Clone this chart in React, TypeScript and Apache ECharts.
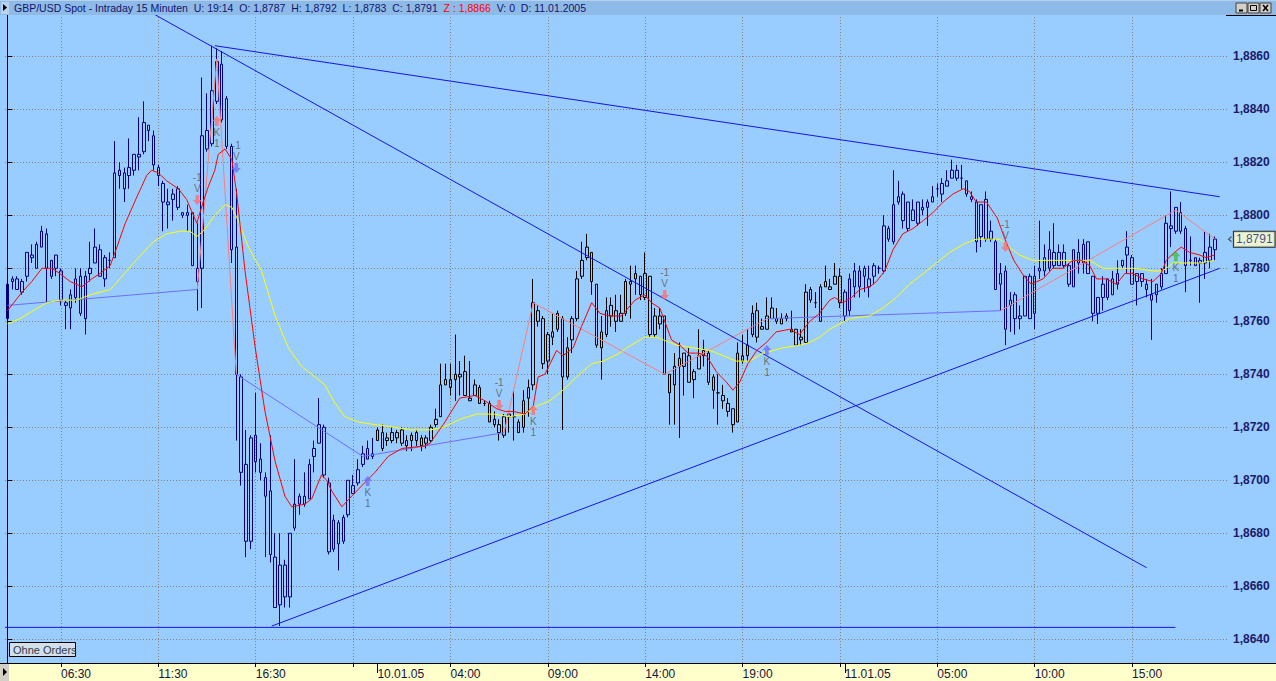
import React, { useEffect, useRef } from 'react';
import * as echarts from 'echarts';

// ---------- candle data (GBP/USD, 15 min bars) ----------
const opens = [
  1.8761,1.8776,1.8776,1.8771,1.8777,1.8785,1.8780,1.8788,1.8793,1.8777,
  1.8785,1.8779,1.8767,1.8765,1.8769,1.8777,1.8761,1.8778,1.8782,1.8787,
  1.8776,1.8783,1.8784,1.8817,1.8810,1.8815,1.8817,1.8822,1.8824,1.8834,
  1.8830,1.8818,1.8812,1.8804,1.8806,1.8810,1.8801,1.8801,1.8801,1.8780,
  1.8780,1.8832,1.8827,1.8843,1.8857,1.8844,1.8826,1.8788,1.8739,1.8706,
  1.8677,1.8707,1.8708,1.8701,1.8696,1.8671,1.8653,1.8656,1.8656,1.8682,
  1.8694,1.8691,1.8693,1.8709,1.8714,1.8720,1.8699,1.8674,1.8684,1.8677,
  1.8687,1.8695,1.8699,1.8706,1.8712,1.8709,1.8715,1.8718,1.8715,1.8718,
  1.8716,1.8719,1.8715,1.8717,1.8718,1.8716,1.8716,1.8715,1.8721,1.8724,
  1.8738,1.8735,1.8738,1.8739,1.8741,1.8731,1.8732,1.8735,1.8729,1.8729,
  1.8723,1.8721,1.8717,1.8724,1.8724,1.8722,1.8720,1.8731,1.8736,1.8764,
  1.8761,1.8755,1.8754,1.8757,1.8761,1.8739,1.8753,1.8761,1.8777,1.8784,
  1.8786,1.8774,1.8750,1.8755,1.8766,1.8764,1.8760,1.8763,1.8775,1.8776,
  1.8777,1.8769,1.8777,1.8762,1.8759,1.8762,1.8740,1.8736,1.8743,1.8743,
  1.8747,1.8738,1.8742,1.8747,1.8748,1.8739,1.8733,1.8732,1.8729,1.8727,
  1.8722,1.8747,1.8751,1.8755,1.8764,1.8758,1.8757,1.8761,1.8761,1.8761,
  1.8762,1.8757,1.8757,1.8754,1.8752,1.8772,1.8767,1.8760,1.8775,1.8772,
  1.8774,1.8777,1.8771,1.8764,1.8773,1.8773,1.8780,1.8776,1.8777,1.8780,
  1.8779,1.8795,1.8790,1.8805,1.8808,1.8795,1.8802,1.8797,1.8803,1.8803,
  1.8805,1.8810,1.8808,1.8813,1.8814,1.8814,1.8814,1.8813,1.8807,1.8805,
  1.8792,1.8806,1.8794,1.8790,1.8774,1.8779,1.8766,1.8770,1.8762,1.8762,
  1.8777,1.8763,1.8779,1.8784,1.8780,1.8786,1.8781,1.8786,1.8781,1.8773,
  1.8786,1.8782,1.8790,1.8777,1.8763,1.8769,1.8769,1.8776,1.8774,1.8783,
  1.8785,1.8784,1.8775,1.8778,1.8774,1.8770,1.8770,1.8773,1.8778,1.8796,
  1.8794,1.8801,1.8795,1.8783,1.8784,1.8782,1.8786,1.8783,1.8787
];
const highs = [
  1.8774,1.8777,1.8777,1.8776,1.8786,1.8789,1.8790,1.8796,1.8795,1.8783,
  1.8785,1.8780,1.8768,1.8772,1.8780,1.8780,1.8779,1.8790,1.8795,1.8789,
  1.8785,1.8786,1.8828,1.8820,1.8818,1.8829,1.8823,1.8837,1.8843,1.8834,
  1.8832,1.8819,1.8813,1.8810,1.8810,1.8811,1.8801,1.8804,1.8801,1.8797,
  1.8852,1.8846,1.8864,1.8863,1.8862,1.8845,1.8827,1.8810,1.8740,1.8719,
  1.8717,1.8733,1.8714,1.8703,1.8717,1.8680,1.8680,1.8670,1.8680,1.8708,
  1.8695,1.8703,1.8708,1.8715,1.8731,1.8721,1.8701,1.8687,1.8685,1.8687,
  1.8700,1.8702,1.8708,1.8713,1.8715,1.8716,1.8720,1.8721,1.8718,1.8720,
  1.8719,1.8720,1.8717,1.8718,1.8719,1.8717,1.8717,1.8721,1.8727,1.8744,
  1.8744,1.8744,1.8755,1.8745,1.8747,1.8745,1.8738,1.8736,1.8730,1.8730,
  1.8726,1.8723,1.8725,1.8726,1.8734,1.8723,1.8734,1.8738,1.8776,1.8766,
  1.8762,1.8756,1.8763,1.8764,1.8762,1.8754,1.8762,1.8779,1.8790,1.8793,
  1.8786,1.8774,1.8762,1.8769,1.8769,1.8770,1.8770,1.8776,1.8781,1.8781,
  1.8777,1.8786,1.8777,1.8765,1.8765,1.8762,1.8740,1.8748,1.8752,1.8748,
  1.8750,1.8742,1.8757,1.8753,1.8749,1.8740,1.8740,1.8736,1.8731,1.8727,
  1.8752,1.8755,1.8757,1.8766,1.8767,1.8761,1.8769,1.8769,1.8765,1.8763,
  1.8763,1.8764,1.8757,1.8757,1.8774,1.8773,1.8771,1.8774,1.8781,1.8776,
  1.8782,1.8780,1.8772,1.8778,1.8782,1.8781,1.8781,1.8781,1.8782,1.8781,
  1.8800,1.8796,1.8817,1.8813,1.8809,1.8805,1.8806,1.8805,1.8806,1.8806,
  1.8811,1.8812,1.8814,1.8817,1.8821,1.8819,1.8819,1.8813,1.8809,1.8806,
  1.8804,1.8809,1.8798,1.8791,1.8782,1.8781,1.8771,1.8771,1.8766,1.8777,
  1.8778,1.8781,1.8798,1.8789,1.8794,1.8797,1.8789,1.8789,1.8782,1.8787,
  1.8791,1.8791,1.8790,1.8777,1.8769,1.8777,1.8776,1.8779,1.8783,1.8783,
  1.8794,1.8785,1.8778,1.8778,1.8776,1.8776,1.8774,1.8780,1.8800,1.8809,
  1.8803,1.8805,1.8796,1.8792,1.8784,1.8784,1.8794,1.8793,1.8792
];
const lows = [
  1.8761,1.8772,1.8772,1.8770,1.8775,1.8782,1.8780,1.8788,1.8767,1.8776,
  1.8777,1.8766,1.8757,1.8757,1.8767,1.8762,1.8755,1.8775,1.8782,1.8777,
  1.8773,1.8780,1.8784,1.8810,1.8805,1.8810,1.8815,1.8817,1.8823,1.8828,
  1.8817,1.8811,1.8794,1.8795,1.8798,1.8802,1.8799,1.8794,1.8781,1.8764,
  1.8765,1.8824,1.8826,1.8842,1.8835,1.8825,1.8782,1.8715,1.8698,1.8671,
  1.8674,1.8703,1.8700,1.8671,1.8669,1.8652,1.8645,1.8652,1.8652,1.8681,
  1.8687,1.8690,1.8693,1.8703,1.8714,1.8701,1.8672,1.8673,1.8666,1.8676,
  1.8686,1.8695,1.8698,1.8705,1.8708,1.8708,1.8715,1.8711,1.8713,1.8714,
  1.8714,1.8713,1.8711,1.8711,1.8713,1.8711,1.8712,1.8714,1.8720,1.8724,
  1.8736,1.8732,1.8730,1.8732,1.8732,1.8730,1.8732,1.8729,1.8728,1.8722,
  1.8720,1.8715,1.8716,1.8718,1.8715,1.8718,1.8718,1.8724,1.8734,1.8758,
  1.8742,1.8740,1.8751,1.8756,1.8719,1.8738,1.8748,1.8760,1.8776,1.8783,
  1.8770,1.8750,1.8738,1.8754,1.8758,1.8756,1.8760,1.8762,1.8761,1.8770,
  1.8768,1.8768,1.8754,1.8754,1.8757,1.8740,1.8721,1.8721,1.8716,1.8732,
  1.8737,1.8731,1.8742,1.8743,1.8736,1.8727,1.8721,1.8727,1.8724,1.8718,
  1.8722,1.8744,1.8745,1.8754,1.8752,1.8757,1.8757,1.8761,1.8759,1.8759,
  1.8760,1.8756,1.8751,1.8751,1.8752,1.8767,1.8765,1.8760,1.8773,1.8772,
  1.8774,1.8765,1.8760,1.8762,1.8769,1.8769,1.8771,1.8769,1.8774,1.8778,
  1.8778,1.8790,1.8789,1.8804,1.8795,1.8794,1.8798,1.8796,1.8800,1.8796,
  1.8805,1.8807,1.8805,1.8811,1.8814,1.8813,1.8810,1.8807,1.8805,1.8786,
  1.8788,1.8790,1.8790,1.8772,1.8764,1.8751,1.8756,1.8755,1.8757,1.8762,
  1.8761,1.8757,1.8776,1.8777,1.8779,1.8780,1.8781,1.8780,1.8773,1.8773,
  1.8778,1.8778,1.8778,1.8760,1.8759,1.8764,1.8768,1.8770,1.8772,1.8780,
  1.8778,1.8774,1.8766,1.8773,1.8769,1.8753,1.8767,1.8772,1.8778,1.8788,
  1.8793,1.8793,1.8771,1.8781,1.8781,1.8767,1.8776,1.8780,1.8783
];
const closes = [
  1.8774,1.8775,1.8772,1.8775,1.8786,1.8784,1.8789,1.8794,1.8780,1.8783,
  1.8780,1.8768,1.8766,1.8770,1.8776,1.8763,1.8777,1.8780,1.8788,1.8777,
  1.8784,1.8783,1.8816,1.8815,1.8816,1.8818,1.8823,1.8823,1.8835,1.8832,
  1.8819,1.8815,1.8805,1.8805,1.8808,1.8803,1.8800,1.8800,1.8781,1.8775,
  1.8830,1.8825,1.8847,1.8858,1.8836,1.8826,1.8787,1.8740,1.8703,1.8677,
  1.8716,1.8717,1.8703,1.8694,1.8672,1.8652,1.8668,1.8668,1.8680,1.8691,
  1.8691,1.8694,1.8706,1.8712,1.8721,1.8702,1.8673,1.8685,1.8676,1.8686,
  1.8700,1.8698,1.8704,1.8710,1.8708,1.8710,1.8719,1.8712,1.8716,1.8715,
  1.8718,1.8714,1.8713,1.8715,1.8715,1.8713,1.8714,1.8720,1.8723,1.8736,
  1.8736,1.8738,1.8740,1.8740,1.8732,1.8730,1.8736,1.8729,1.8729,1.8722,
  1.8721,1.8718,1.8724,1.8725,1.8724,1.8718,1.8730,1.8735,1.8767,1.8760,
  1.8744,1.8745,1.8756,1.8763,1.8739,1.8750,1.8761,1.8776,1.8783,1.8788,
  1.8775,1.8751,1.8756,1.8764,1.8762,1.8760,1.8763,1.8775,1.8774,1.8778,
  1.8770,1.8778,1.8755,1.8755,1.8762,1.8740,1.8733,1.8743,1.8746,1.8748,
  1.8737,1.8741,1.8747,1.8749,1.8737,1.8734,1.8733,1.8730,1.8726,1.8721,
  1.8748,1.8745,1.8747,1.8763,1.8754,1.8757,1.8762,1.8765,1.8760,1.8759,
  1.8761,1.8756,1.8751,1.8753,1.8771,1.8768,1.8767,1.8773,1.8773,1.8773,
  1.8777,1.8767,1.8762,1.8776,1.8779,1.8779,1.8777,1.8773,1.8781,1.8780,
  1.8796,1.8791,1.8804,1.8807,1.8798,1.8805,1.8798,1.8805,1.8802,1.8805,
  1.8807,1.8810,1.8812,1.8811,1.8817,1.8817,1.8814,1.8808,1.8806,1.8790,
  1.8804,1.8791,1.8791,1.8772,1.8778,1.8757,1.8768,1.8761,1.8761,1.8777,
  1.8761,1.8777,1.8780,1.8779,1.8787,1.8781,1.8786,1.8781,1.8774,1.8787,
  1.8782,1.8789,1.8778,1.8763,1.8769,1.8774,1.8776,1.8770,1.8778,1.8781,
  1.8788,1.8774,1.8778,1.8775,1.8772,1.8768,1.8774,1.8778,1.8797,1.8795,
  1.8803,1.8794,1.8781,1.8783,1.8781,1.8783,1.8782,1.8788,1.8791
];

// trading days: first bar index of each day and its candle colour
const dayStartIdx = [0, 76, 172];
const dayColors = ['#000080', '#000000', '#000080'];

// time axis
const tickIdx = [11, 31, 51, 71, 91, 111, 131, 151, 171, 191, 211, 231];
const labelIdx = [11, 31, 51, 76, 91, 111, 131, 151, 172, 191, 211, 231];
const labelText = ['06:30', '11:30', '16:30', '10.01.05', '04:00', '09:00', '14:00', '19:00', '11.01.05', '05:00', '10:00', '15:00'];
const dateTickIdx = [76, 172];

// moving averages (bar index, price)
const redX = [0,3,5,7.1,9.1,10.8,12.9,15.3,17.3,19,21.1,22.1,24.2,26.6,28.6,29.6,31,32.7,35.1,36.8,38.9,40.2,41.3,42.6,43.3,44.7,46.1,47.1,48.8,50.9,52.9,55,57,58.4,61.1,62.5,64.5,65.6,66.6,68.7,70.7,72.8,75.5,78.2,81,85.8,86.8,89.5,92.9,96,98.1,100.5,102.2,103.9,106.3,108,109,110.4,112.8,114.1,116.2,117.9,120,121.7,123.7,126.1,128.9,130.9,132.3,134,136.4,138.1,139.8,141.9,143.6,145.6,147.7,149,150.4,152.1,153.9,155.9,157.9,160.7,162.7,164.8,166.8,168.9,169.9,171.6,173.4,175.1,177.1,178.5,180.2,181.9,183.9,186,188.1,190.1,192.2,194.2,196.3,197.6,199,201.1,203.3,204.9,206.7,208.8,210.3,212.7,214.7,216.8,218.8,220.6,222.3,223.7,225.7,227.8,229.5,231.2,233.2,235.3,237,238,239.7,241.1,242.8,244.9,246.2,247.9];
const redY = [1.8764,1.8771,1.8775,1.8780,1.8780,1.8778,1.8775,1.8773,1.8776,1.8778,1.8781,1.8786,1.8797,1.8807,1.8815,1.8817,1.8816,1.8813,1.8810,1.8806,1.8797,1.8805,1.8811,1.8817,1.8823,1.8825,1.8821,1.8808,1.8779,1.8750,1.8726,1.8707,1.8694,1.8690,1.8691,1.8693,1.8702,1.8700,1.8696,1.8690,1.8694,1.8698,1.8703,1.8709,1.8712,1.8713,1.8714,1.8721,1.8731,1.8732,1.8730,1.8727,1.8726,1.8726,1.8725,1.8728,1.8739,1.8740,1.8749,1.8747,1.8750,1.8758,1.8767,1.8763,1.8762,1.8762,1.8768,1.8770,1.8767,1.8765,1.8753,1.8751,1.8748,1.8748,1.8747,1.8741,1.8737,1.8734,1.8737,1.8744,1.8749,1.8752,1.8756,1.8757,1.8755,1.8760,1.8763,1.8768,1.8769,1.8767,1.8769,1.8772,1.8773,1.8775,1.8779,1.8787,1.8793,1.8795,1.8798,1.8801,1.8805,1.8808,1.8810,1.8809,1.8805,1.8805,1.8799,1.8791,1.8783,1.8777,1.8774,1.8776,1.8780,1.8780,1.8783,1.8783,1.8781,1.8776,1.8776,1.8774,1.8778,1.8778,1.8776,1.8775,1.8778,1.8783,1.8786,1.8788,1.8786,1.8785,1.8784,1.8785];
const yellowX = [0,2.6,5.3,8.1,10.8,14.2,17,19,21.1,23.1,25.9,27.9,30,32.7,35.5,37.5,38.9,40.2,42.6,44.7,46.1,47.4,49.5,52.2,55,57.7,60.4,63.2,65.2,67.3,69.3,72.1,75.5,79.6,82.7,86.8,89.5,92.9,96.4,99.8,103.2,106.3,108.7,111.4,114.1,116.9,120,122.4,125.8,127.2,130.9,133.3,134.7,137.4,140.8,144.3,147,149.7,152.5,155.2,159.3,162.7,164.8,166.8,168.9,173,177.1,179.8,182.6,185.3,188.1,190.8,193.5,196.3,199,201.7,203.8,205.8,207.9,210.6,214.7,219.5,222.3,225,227.8,231.9,235.3,237.3,239.4,242.1,244.9,247.9];
const yellowY = [1.8759,1.8761,1.8764,1.8767,1.8768,1.8768,1.8770,1.8771,1.8772,1.8776,1.8782,1.8786,1.8790,1.8793,1.8794,1.8794,1.8792,1.8794,1.8800,1.8804,1.8803,1.8798,1.8788,1.8779,1.8762,1.8750,1.8743,1.8739,1.8736,1.8729,1.8724,1.8722,1.8721,1.8720,1.8719,1.8719,1.8720,1.8723,1.8725,1.8725,1.8724,1.8725,1.8728,1.8730,1.8734,1.8739,1.8744,1.8745,1.8748,1.8750,1.8754,1.8754,1.8753,1.8751,1.8750,1.8749,1.8747,1.8745,1.8745,1.8748,1.8750,1.8751,1.8752,1.8754,1.8757,1.8761,1.8762,1.8765,1.8769,1.8774,1.8778,1.8782,1.8786,1.8789,1.8791,1.8791,1.8791,1.8788,1.8785,1.8783,1.8783,1.8783,1.8783,1.8780,1.8780,1.8780,1.8779,1.8779,1.8782,1.8782,1.8782,1.8783];

// swing (zig-zag) line: turning points and colour of each leg (v = violet, s = salmon)
const zzX = [0, 39, 43, 47, 73, 102, 108, 135, 156, 204, 240, 248];
const zzY = [1.8766, 1.8772, 1.8859, 1.8740, 1.8709, 1.8718, 1.8767, 1.8740, 1.8761, 1.8764, 1.8802, 1.8791];
const zzLeg = ['v', 's', 's', 'v', 'v', 's', 's', 's', 'v', 's', 's'];

// drawn trend lines: start/end bar index and price
const tlX1 = [30, 42.6, 54.3, -0.5];
const tlY1 = [1.8876, 1.8864, 1.8645, 1.86445];
const tlX2 = [234, 249, 249, 239.9];
const tlY2 = [1.8667, 1.8807, 1.8780, 1.86445];

// trading signals
const sigX = [39, 43, 47, 74, 101, 108, 135, 156, 205, 240];
const sigY = [1.88058, 1.88356, 1.88178, 1.86997, 1.87284, 1.87265, 1.87699, 1.87492, 1.87880, 1.87845];
const sigKind = ['V', 'K', 'V', 'K', 'V', 'K', 'V', 'K', 'V', 'K'];
const sigColor = ['#FF6E6E', '#FF6E6E', '#6E6EFF', '#6E6EFF', '#FF6E6E', '#FF6E6E', '#FF6E6E', '#6E6EFF', '#FF6E6E', '#3CC03C'];

// header fields
const titleText = ['GBP/USD Spot - Intraday 15 Minuten', 'U: 19:14', 'O: 1,8787', 'H: 1,8792', 'L: 1,8783', 'C: 1,8791', 'Z : 1,8866', 'V: 0', 'D: 11.01.2005'];
const titleRed = [false, false, false, false, false, false, true, false, false];

// price axis
const Y_MIN = 1.863106;
const Y_MAX = 1.887558;
const N_CAT = 251;

const FONT = '"Liberation Sans", Arial, Helvetica, sans-serif';
const fmt = (v: number) => v.toFixed(4).replace('.', ',');

export default function App() {
  const ref = useRef<HTMLDivElement>(null);

  useEffect(() => {
    const chart = echarts.init(ref.current!, null, { renderer: 'svg' });
    const categories = Array.from({ length: N_CAT }, (_, i) => String(i));

    const dayColorOf = (i: number) => {
      let c = dayColors[0];
      dayStartIdx.forEach((s, k) => { if (i >= s) c = dayColors[k]; });
      return c;
    };
    const candleData = opens.map((o, i) => {
      const col = dayColorOf(i);
      return {
        value: [o, closes[i], lows[i], highs[i]],
        itemStyle: { color: 'rgba(0,0,0,0)', color0: col, borderColor: col, borderColor0: col, borderWidth: 1 },
      };
    });
    const lastClose = closes[closes.length - 1];

    const zzSeries = zzLeg.map((leg, k) => ({
      type: 'line', xAxisIndex: 2, yAxisIndex: 0, z: 4,
      symbol: 'none', silent: true,
      lineStyle: { color: leg === 'v' ? '#6E6EFF' : '#FF7C7C', width: 1 },
      data: [[zzX[k], zzY[k]], [zzX[k + 1], zzY[k + 1]]],
    }));

    const tlSeries = tlX1.map((x1, k) => ({
      type: 'line', xAxisIndex: 2, yAxisIndex: 0, z: 5,
      symbol: 'none', silent: true,
      lineStyle: { color: '#1414E6', width: 1 },
      data: [[x1, tlY1[k]], [tlX2[k], tlY2[k]]],
    }));

    const downArrow = 'path://M3,0L7,0L7,5L10,5L5,10L0,5L3,5Z';
    const upArrow = 'path://M5,0L10,5L7,5L7,10L3,10L3,5L0,5Z';

    const sigSeries = {
      type: 'scatter', xAxisIndex: 2, yAxisIndex: 0, z: 7, silent: true,
      data: sigX.map((x, i) => ({
        value: [x, sigY[i]],
        symbol: sigKind[i] === 'V' ? downArrow : upArrow,
        symbolSize: [9, 10],
        itemStyle: { color: sigColor[i] },
        label: {
          show: true,
          position: sigKind[i] === 'V' ? 'top' : 'bottom',
          distance: 1,
          formatter: sigKind[i] === 'V' ? '-1\nV' : 'K\n1',
          color: '#5A5A48', fontSize: 10, lineHeight: 11, fontFamily: FONT,
        },
      })),
    };

    // last price marker at the right edge of the plot
    const priceSeries = {
      type: 'scatter', xAxisIndex: 2, yAxisIndex: 0, z: 8, silent: true, clip: false,
      data: [{
        value: [N_CAT - 0.5, lastClose],
        symbol: 'path://M4,0L0,3L4,6',
        symbolSize: [3, 5],
        symbolOffset: [3, 0],
        itemStyle: { color: 'rgba(0,0,0,0)', borderColor: '#333', borderWidth: 1 },
        label: {
          show: true, position: 'right', distance: 2, formatter: fmt(lastClose),
          color: '#1A1A6A', fontSize: 12, fontFamily: FONT,
          backgroundColor: '#FFFFCC', borderColor: '#000', borderWidth: 1, padding: [2, 2, 1, 2],
        },
      }],
    };

    const W = 1276;
    const graphics: any[] = [
      { type: 'rect', silent: true, z: -10, shape: { x: 0, y: 663, width: W, height: 18 }, style: { fill: '#FFFFCC' } },
      { type: 'line', silent: true, z: 20, shape: { x1: 0, y1: 663.5, x2: W, y2: 663.5 }, style: { stroke: '#000', lineWidth: 1 } },
      { type: 'rect', silent: true, z: 21, shape: { x: 0, y: 664, width: 9, height: 17 }, style: { fill: '#D4D0C8' } },
      { type: 'polygon', silent: true, z: 22, shape: { points: [[3, 668], [3, 676], [7, 672]] }, style: { fill: '#000' } },
      // title bar
      { type: 'rect', silent: true, z: 30, shape: { x: 0, y: 0, width: W, height: 15 }, style: { fill: '#8DBAE7' } },
      { type: 'line', silent: true, z: 31, shape: { x1: 0, y1: 0.5, x2: W, y2: 0.5 }, style: { stroke: '#B4D2F0', lineWidth: 1 } },
      { type: 'line', silent: true, z: 31, shape: { x1: 1226, y1: 15.5, x2: W, y2: 15.5 }, style: { stroke: '#000', lineWidth: 1 } },
      { type: 'rect', silent: true, z: 31, shape: { x: 1, y: 2, width: 8, height: 12 }, style: { fill: '#B9D3EC' } },
      { type: 'polygon', silent: true, z: 32, shape: { points: [[3, 4], [3, 11], [7, 7.5]] }, style: { fill: '#000' } },
    ];
    const rich: any = {
      n: { fill: '#14146E', font: `10.5px ${FONT}` },
      r: { fill: '#FF0000', font: `10.5px ${FONT}` },
    };
    const titleStr = titleText.map((t, i) => `{${titleRed[i] ? 'r' : 'n'}|${t}}`).join('{n|  }');
    graphics.push({
      type: 'text', silent: true, z: 33,
      style: { text: titleStr, rich, x: 14, y: 8, fill: '#14146E', font: `10.5px ${FONT}`, verticalAlign: 'middle', align: 'left' },
    });
    // window buttons
    [1236, 1248, 1260].forEach((bx, k) => {
      graphics.push({ type: 'rect', silent: true, z: 33, shape: { x: bx, y: 3, width: 11, height: 10 }, style: { fill: '#D4D0C8', stroke: '#404040', lineWidth: 1 } });
      if (k === 0) graphics.push({ type: 'line', silent: true, z: 34, shape: { x1: bx + 3, y1: 10.5, x2: bx + 7, y2: 10.5 }, style: { stroke: '#000', lineWidth: 2 } });
      if (k === 1) graphics.push({ type: 'rect', silent: true, z: 34, shape: { x: bx + 2.5, y: 5.5, width: 6, height: 5 }, style: { fill: 'none', stroke: '#000', lineWidth: 1 } });
      if (k === 2) {
        graphics.push({ type: 'line', silent: true, z: 34, shape: { x1: bx + 3, y1: 5, x2: bx + 8, y2: 11 }, style: { stroke: '#000', lineWidth: 1.5 } });
        graphics.push({ type: 'line', silent: true, z: 34, shape: { x1: bx + 8, y1: 5, x2: bx + 3, y2: 11 }, style: { stroke: '#000', lineWidth: 1.5 } });
      }
    });
    // "Ohne Orders" button
    graphics.push({ type: 'rect', silent: true, z: 33, shape: { x: 9.5, y: 642.5, width: 66, height: 14 }, style: { fill: '#D3DFEB', stroke: '#000', lineWidth: 1 } });
    graphics.push({ type: 'text', silent: true, z: 34, style: { text: 'Ohne Orders', x: 13, y: 650, fill: '#2E3C4C', font: `11px ${FONT}`, verticalAlign: 'middle', align: 'left' } });

    const option: any = {
      animation: false,
      backgroundColor: '#99CCFF',
      grid: { left: 5, right: 49, top: 15, bottom: 18, show: false },
      xAxis: [
        {
          type: 'category', data: categories, position: 'bottom', boundaryGap: true, gridIndex: 0,
          axisLine: { show: false },
          axisTick: { show: true, alignWithLabel: true, interval: (i: number) => tickIdx.includes(i), length: 4, lineStyle: { color: '#000', width: 1 } },
          axisLabel: {
            show: true, interval: (i: number) => labelIdx.includes(i),
            formatter: (_v: string, i: number) => { const k = labelIdx.indexOf(i); return k >= 0 ? labelText[k] : ''; },
            align: 'left', margin: 5, color: '#14143C', fontSize: 12, fontFamily: FONT,
          },
          splitLine: { show: false },
        },
        {
          type: 'category', data: categories, position: 'bottom', boundaryGap: true, gridIndex: 0,
          axisLine: { show: false }, axisLabel: { show: false }, splitLine: { show: false },
          axisTick: { show: true, alignWithLabel: true, interval: (i: number) => dateTickIdx.includes(i), length: 10, lineStyle: { color: '#000', width: 1 } },
        },
        { type: 'value', min: -0.5, max: N_CAT - 0.5, show: false, gridIndex: 0, position: 'bottom' },
      ],
      yAxis: [
        {
          type: 'value', position: 'right', min: Y_MIN, max: Y_MAX, splitNumber: 12, minInterval: 0.002, maxInterval: 0.002,
          axisLine: { show: true, lineStyle: { color: '#000', width: 1 } },
          axisTick: { show: true, length: 5, lineStyle: { color: '#000' } },
          axisLabel: {
            formatter: (v: number) => fmt(v), color: '#1A1A6A', fontWeight: 'bold', fontSize: 12, margin: 6,
            showMinLabel: false, showMaxLabel: false, fontFamily: FONT,
          },
          splitLine: { show: true, showMinLine: false, showMaxLine: false, lineStyle: { color: '#8A8278', type: [1, 2], width: 1 } },
        },
      ],
      series: [
        {
          type: 'candlestick', xAxisIndex: 0, yAxisIndex: 0, z: 3, barWidth: 3, silent: true,
          data: candleData,
        },
        ...tlSeries,
        {
          type: 'line', xAxisIndex: 2, yAxisIndex: 0, z: 6, symbol: 'none', silent: true,
          lineStyle: { color: '#FFFF00', width: 1 },
          data: yellowX.map((x, i) => [x, yellowY[i]]),
          markLine: {
            silent: true, symbol: ['none', 'none'], animation: false, z: 1,
            label: { show: false },
            lineStyle: { color: '#8A8278', type: [1, 2], width: 1 },
            data: tickIdx.map((v) => ({ xAxis: v })),
          },
        },
        {
          type: 'line', xAxisIndex: 2, yAxisIndex: 0, z: 6, symbol: 'none', silent: true,
          lineStyle: { color: '#FF0000', width: 1 },
          data: redX.map((x, i) => [x, redY[i]]),
        },
        ...zzSeries,
        sigSeries,
        priceSeries,
      ],
      graphic: { elements: graphics },
    };

    chart.setOption(option);
    return () => chart.dispose();
  }, []);

  return <div ref={ref} style={{ position: 'fixed', left: 0, top: 0, width: 1276, height: 681 }} />;
}
